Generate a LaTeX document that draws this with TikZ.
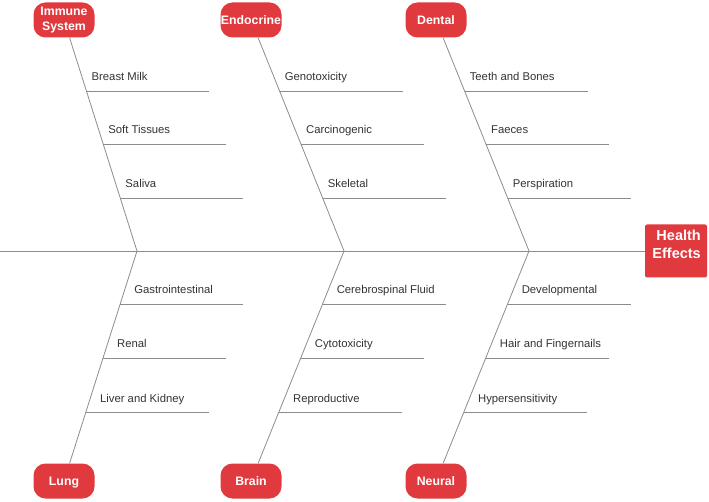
\documentclass[tikz,border=0pt]{standalone}
\usepackage{fontspec}
\setmainfont{Liberation Sans}
\usetikzlibrary{calc}
\definecolor{headred}{HTML}{E0393E}
\definecolor{bonegray}{HTML}{8C8C8C}
\definecolor{labelgray}{HTML}{333333}

\begin{document}
\begin{tikzpicture}[x=1pt, y=-1pt,
  head/.style={fill=headred, text=white, rounded corners=12pt, minimum width=61pt, minimum height=35pt, inner sep=0pt, align=center, font=\fontsize{12.3}{15.5}\selectfont\bfseries},
  bone/.style={draw=bonegray, line width=0.8pt},
  cause/.style={text=labelgray, inner sep=0pt, anchor=base west, font=\fontsize{11.3}{13}\selectfont}]
\useasboundingbox (0,0) rectangle (709,502);

% Heads, top row
\node[head] (immune) at (64,20) {Immune\\System};
\node[head] (endocrine) at (251,20) {Endocrine};
\node[head] (dental) at (436,20) {Dental};

% Heads, bottom row
\node[head, text depth=0pt] (lung) at (64,481) {Lung};
\node[head] (brain) at (251,481) {Brain};
\node[head] (neural) at (436,481) {Neural};

% Effect box
\node[fill=headred, rounded corners=2pt, minimum width=62pt, minimum height=53pt, inner sep=0pt] (effect) at (676,251) {};
\node[text=white, font=\fontsize{14.5}{18}\selectfont\bfseries, align=right, anchor=north east, inner sep=0pt] (effecttxt) at (701,229.5) {Health\\Effects};

% Spine and junctions
\coordinate (tail) at (0,251);
\coordinate (j1) at (137,251);
\coordinate (j2) at (344,251);
\coordinate (j3) at (529,251);
\draw[bone] (tail) -- (effect);

% Bones
\draw[bone] (immune) -- (j1);
\draw[bone] (endocrine) -- (j2);
\draw[bone] (dental) -- (j3);
\draw[bone] (j1) -- (lung);
\draw[bone] (j2) -- (brain);
\draw[bone] (j3) -- (neural);

% Causes above the spine
\foreach \hd/\jn/\y/\txt [count=\i] in {immune/j1/91/Breast Milk, immune/j1/144/Soft Tissues, immune/j1/198/Saliva,
    endocrine/j2/91/Genotoxicity, endocrine/j2/144/Carcinogenic, endocrine/j2/198/Skeletal,
    dental/j3/91/Teeth and Bones, dental/j3/144/Faeces, dental/j3/198/Perspiration} {
  \coordinate (t\i) at ($(\hd)!{(\y-20)/231}!(\jn)$);
  \draw[bone] (t\i) -- ++(123,0);
  \node[cause] (tc\i) at ($(t\i)+(5,-10)$) {\txt};
}

% Causes below the spine
\foreach \hd/\jn/\y/\txt [count=\i] in {lung/j1/304/Gastrointestinal, lung/j1/358/Renal, lung/j1/412/Liver and Kidney,
    brain/j2/304/Cerebrospinal Fluid, brain/j2/358/Cytotoxicity, brain/j2/412/Reproductive,
    neural/j3/304/Developmental, neural/j3/358/Hair and Fingernails, neural/j3/412/Hypersensitivity} {
  \coordinate (b\i) at ($(\jn)!{(\y-251)/230}!(\hd)$);
  \draw[bone] (b\i) -- ++(123,0);
  \node[cause] (bc\i) at ($(b\i)+(14,-10)$) {\txt};
}
\end{tikzpicture}
\end{document}
